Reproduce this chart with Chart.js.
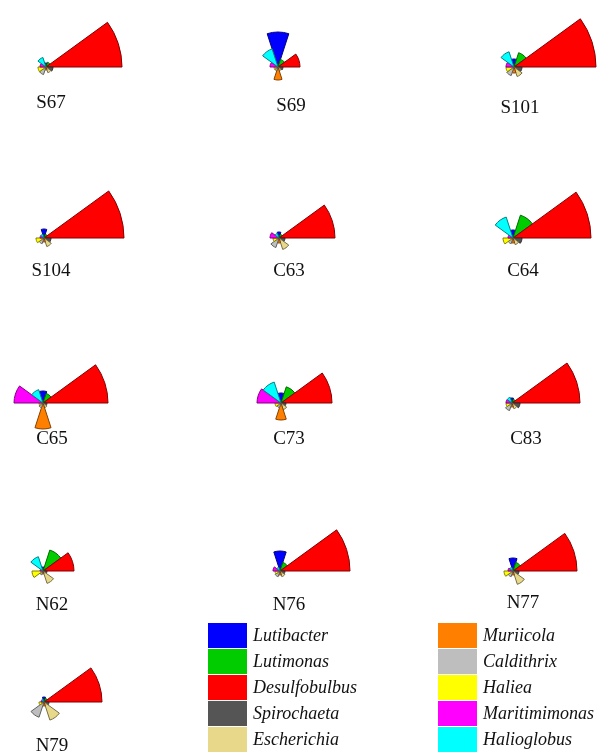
<!DOCTYPE html>
<html>
<head>
<meta charset="utf-8">
<script src="https://cdn.jsdelivr.net/npm/chart.js@4/dist/chart.umd.min.js"></script>
<style>
  html, body { margin: 0; padding: 0; background: #fff; }
  #page { position: relative; width: 597px; height: 754px; overflow: hidden; background: #fff; }
  #page canvas { position: absolute; }
  .tag { position: absolute; font-family: "Liberation Serif", "Times New Roman", serif; font-size: 19px; color: #111; transform: translate(-50%, -50%); white-space: nowrap; line-height: 1; }
  .key { position: absolute; display: flex; align-items: center; height: 26px; font-family: "Liberation Serif", "Times New Roman", serif; font-style: italic; font-size: 18px; color: #111; white-space: nowrap; }
  .key span.sw { display: inline-block; width: 39px; height: 25px; margin-right: 6px; box-sizing: border-box; }
</style>
</head>
<body>
<div id="page"></div>
<script>
// Genera, in the clockwise order of the rose sectors (first one points north)
const genera = ["Lutibacter", "Lutimonas", "Desulfobulbus", "Spirochaeta", "Escherichia",
                "Muriicola", "Caldithrix", "Haliea", "Maritimimonas", "Halioglobus"];

const samples = ["S67", "S69", "S101", "S104", "C63", "C64", "C65", "C73", "C83", "N62", "N76", "N77", "N79"];

// Relative abundance score per genus, one array per sample
const valS67  = [4, 5, 76, 7, 6, 3, 8, 8, 6, 10];
const valS69  = [35, 8, 22, 5, 4, 13, 4, 4, 8, 19];
const valS101 = [8, 15, 82, 8, 10, 6, 9, 8, 8, 16];
const valS104 = [9, 4, 80, 7, 9, 4, 6, 8, 4, 4];
const valC63  = [6, 4, 56, 6, 12, 5, 10, 6, 9, 5];
const valC64  = [8, 24, 78, 9, 7, 5, 6, 10, 5, 22];
const valC65  = [12, 10, 65, 4, 5, 26, 5, 4, 29, 14];
const valC73  = [10, 17, 51, 5, 7, 17, 5, 6, 24, 22];
const valC83  = [5, 4, 68, 8, 6, 4, 8, 6, 6, 6];
const valN62  = [4, 22, 31, 4, 13, 3, 4, 11, 3, 15];
const valN76  = [20, 9, 70, 5, 6, 4, 6, 5, 7, 4];
const valN77  = [13, 9, 64, 6, 14, 4, 6, 9, 5, 4];
const valN79  = [5, 4, 58, 5, 19, 4, 16, 5, 3, 3];

const sampleValues = [valS67, valS69, valS101, valS104, valC63, valC64, valC65,
                      valC73, valC83, valN62, valN76, valN77, valN79];

// Shared radial maximum so every rose uses the same scale
const scaleMax = 100;

// ---- styling / layout ----
const genusColors = ["#0000ff", "#00cc00", "#ff0000", "#555555", "#e8d98a",
                     "#ff8000", "#bebebe", "#ffff00", "#ff00ff", "#00ffff"];

function darken(hex, f) {
  const n = parseInt(hex.slice(1), 16);
  const r = Math.round(((n >> 16) & 255) * f);
  const g = Math.round(((n >> 8) & 255) * f);
  const b = Math.round((n & 255) * f);
  return `rgb(${r},${g},${b})`;
}
const genusBorders = genusColors.map(c => darken(c, 0.5));

// rose centre and caption centre for each panel
const panelCenters = [[46, 67], [278, 67], [514, 67],
                      [44, 238], [279, 238], [513, 238],
                      [43, 403], [281, 403], [512, 403],
                      [43, 571], [280, 571], [513, 571],
                      [44, 702]];
const captionCenters = [[51, 101], [291, 104], [520, 106],
                        [51, 269], [289, 269], [523, 269],
                        [52, 437], [289, 437], [526, 437],
                        [52, 603], [289, 603], [523, 601],
                        [52, 744]];

const canvasSize = 200;
const page = document.getElementById("page");

samples.forEach((name, i) => {
  const [cx, cy] = panelCenters[i];
  const cv = document.createElement("canvas");
  cv.width = canvasSize;
  cv.height = canvasSize;
  cv.style.left = (cx - canvasSize / 2) + "px";
  cv.style.top = (cy - canvasSize / 2) + "px";
  cv.style.width = canvasSize + "px";
  cv.style.height = canvasSize + "px";
  page.appendChild(cv);

  new Chart(cv, {
    type: "polarArea",
    data: {
      labels: genera,
      datasets: [{
        data: sampleValues[i],
        backgroundColor: genusColors,
        borderColor: genusBorders,
        borderWidth: 1
      }]
    },
    options: {
      responsive: false,
      animation: false,
      devicePixelRatio: 1,
      layout: { padding: 0 },
      plugins: { legend: { display: false }, tooltip: { enabled: false } },
      scales: {
        r: {
          min: 0,
          max: scaleMax,
          startAngle: -18,
          ticks: { display: false },
          grid: { display: false },
          angleLines: { display: false },
          pointLabels: { display: false }
        }
      }
    }
  });

  const [lx, ly] = captionCenters[i];
  const tag = document.createElement("div");
  tag.className = "tag";
  tag.style.left = lx + "px";
  tag.style.top = ly + "px";
  tag.textContent = name;
  page.appendChild(tag);
});

// two-column key of genera
genera.forEach((g, i) => {
  const col = Math.floor(i / 5);
  const row = i % 5;
  const item = document.createElement("div");
  item.className = "key";
  item.style.left = (col === 0 ? 208 : 438) + "px";
  item.style.top = (622 + row * 26) + "px";
  const sw = document.createElement("span");
  sw.className = "sw";
  sw.style.background = genusColors[i];
  item.appendChild(sw);
  item.appendChild(document.createTextNode(g));
  page.appendChild(item);
});
</script>
</body>
</html>
